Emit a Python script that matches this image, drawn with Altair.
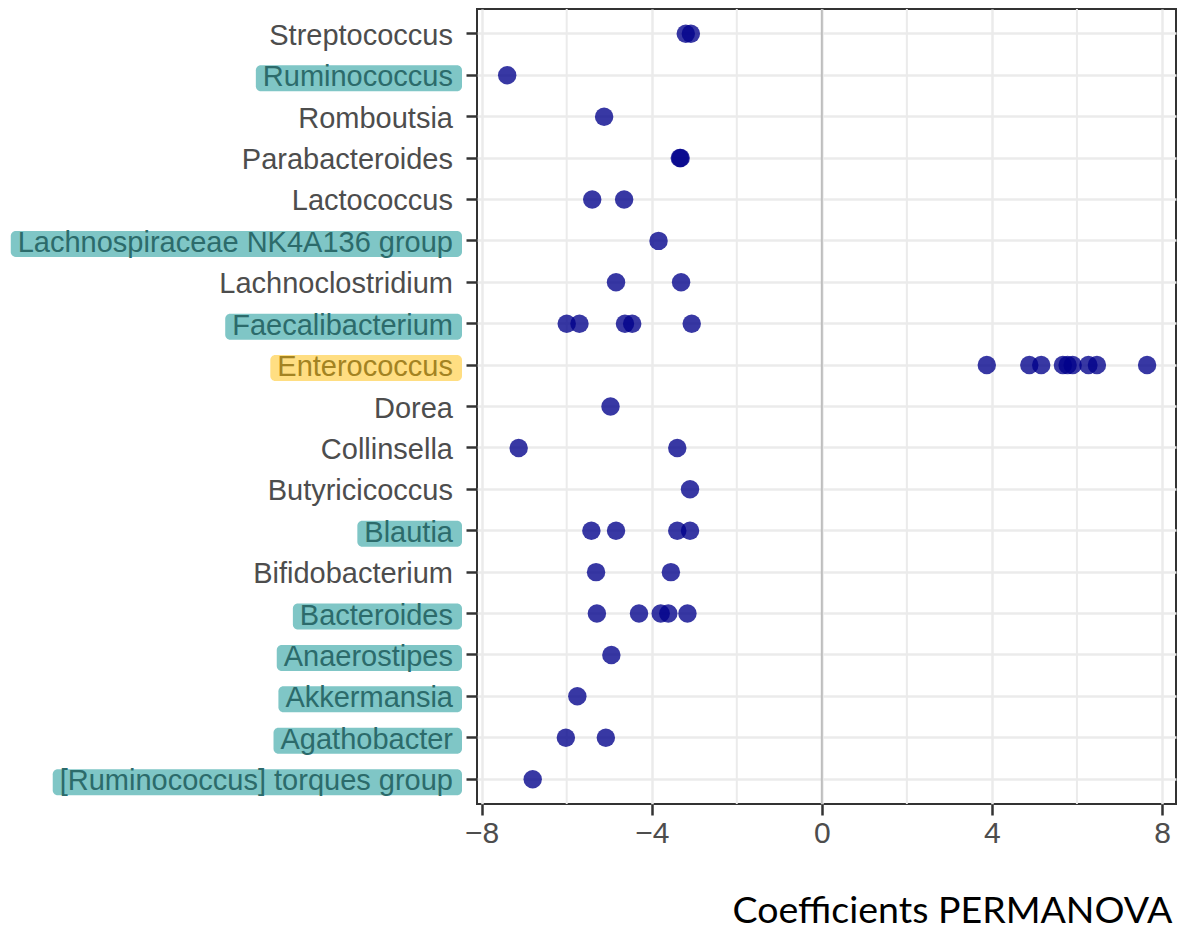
import altair as alt
import pandas as pd

# ---------------- data ----------------
genera = [
    "Streptococcus", "Ruminococcus", "Romboutsia", "Parabacteroides", "Lactococcus",
    "Lachnospiraceae NK4A136 group", "Lachnoclostridium", "Faecalibacterium",
    "Enterococcus", "Dorea", "Collinsella", "Butyricicoccus", "Blautia",
    "Bifidobacterium", "Bacteroides", "Anaerostipes", "Akkermansia",
    "Agathobacter", "[Ruminococcus] torques group",
]
teal_genera = [
    "Ruminococcus", "Lachnospiraceae NK4A136 group", "Faecalibacterium", "Blautia",
    "Bacteroides", "Anaerostipes", "Akkermansia", "Agathobacter",
    "[Ruminococcus] torques group",
]
yellow_genera = ["Enterococcus"]

point_genus = (
    ["Streptococcus"] * 2 + ["Ruminococcus"] + ["Romboutsia"] + ["Parabacteroides"] * 2
    + ["Lactococcus"] * 2 + ["Lachnospiraceae NK4A136 group"] + ["Lachnoclostridium"] * 2
    + ["Faecalibacterium"] * 5 + ["Enterococcus"] * 9 + ["Dorea"] + ["Collinsella"] * 2
    + ["Butyricicoccus"] + ["Blautia"] * 4 + ["Bifidobacterium"] * 2 + ["Bacteroides"] * 5
    + ["Anaerostipes"] + ["Akkermansia"] + ["Agathobacter"] * 2
    + ["[Ruminococcus] torques group"]
)
point_coef = (
    [-3.20, -3.08] + [-7.40] + [-5.12] + [-3.34, -3.32]
    + [-5.40, -4.65] + [-3.84] + [-4.84, -3.31]
    + [-6.00, -5.70, -4.63, -4.46, -3.06]
    + [3.88, 4.88, 5.16, 5.67, 5.78, 5.90, 6.27, 6.47, 7.65]
    + [-4.97] + [-7.13, -3.40] + [-3.10] + [-5.42, -4.84, -3.40, -3.10]
    + [-5.31, -3.55] + [-5.29, -4.30, -3.79, -3.61, -3.16]
    + [-4.95] + [-5.75] + [-6.02, -5.08] + [-6.80]
)
major_ticks = [-8, -4, 0, 4, 8]
minor_ticks = [-6, -2, 2, 6]
x_title = "Coefficients PERMANOVA"

# ---------------- layout helpers ----------------
FONT = "Liberation Sans"
FS = 29
W, H = 699, 795
LABEL_RIGHT = -24   # pixel x of label right edge (relative to plot)
BOX_RIGHT = -15

# Helvetica / Arial advance widths (per 1000 em) for measuring label text
_w = dict(zip("abcdefghijklmnopqrstuvwxyz",
              [556, 556, 500, 556, 556, 278, 556, 556, 222, 222, 500, 222, 833,
               556, 556, 556, 556, 333, 500, 278, 556, 500, 722, 500, 500, 500]))
_w.update(dict(zip("ABCDEFGHIJKLMNOPQRSTUVWXYZ",
                   [667, 667, 722, 722, 667, 611, 778, 722, 278, 500, 667, 556, 833,
                    722, 778, 667, 778, 722, 667, 611, 722, 667, 944, 667, 667, 611])))
_w.update({d: 556 for d in "0123456789"})
_w.update({" ": 278, "[": 278, "]": 278})


def text_width(s):
    return sum(_w.get(c, 556) for c in s) * FS / 1000.0


def group_of(g):
    if g in teal_genera:
        return "teal"
    if g in yellow_genera:
        return "yellow"
    return "plain"


labels_df = pd.DataFrame({"genus": genera})
labels_df["group"] = labels_df["genus"].map(group_of)
labels_df["x0"] = LABEL_RIGHT - labels_df["genus"].map(text_width) - 7
labels_df["x1"] = BOX_RIGHT
boxes_df = labels_df[labels_df["group"] != "plain"]

points_df = pd.DataFrame({"genus": point_genus, "coef": point_coef})
minor_df = pd.DataFrame({"v": minor_ticks})

yscale = alt.Scale(type="band", domain=genera, paddingInner=0, paddingOuter=0.1)
xscale = alt.Scale(domain=[-8.11, 8.33], nice=False, zero=False)

y_axis = alt.Axis(labels=False, title=None, ticks=True, tickSize=11, tickWidth=2.5,
                  tickColor="#333333", domain=False, grid=True, gridColor="#EBEBEB",
                  gridWidth=2.5)
x_axis = alt.Axis(values=major_ticks, title=x_title, grid=True, gridColor="#EBEBEB",
                  gridWidth=2.5, ticks=True, tickSize=11, tickWidth=2.5,
                  tickColor="#333333", domain=False, labelFont=FONT,
                  labelFontSize=30, labelColor="#4D4D4D", labelPadding=3,
                  titleFont="Lato", titleFontSize=37.5, titleFontWeight="normal",
                  titleColor="#000000", titleAnchor="end", titleAlign="right",
                  titleBaseline="alphabetic", titleX=W - 4, titleY=118)

minor = alt.Chart(minor_df).mark_rule(color="#EBEBEB", strokeWidth=2).encode(
    x=alt.X("v:Q", scale=xscale, axis=x_axis)
)

zero = alt.Chart(pd.DataFrame({"z": [0]})).mark_rule(color="#BEBEBE", strokeWidth=2).encode(
    x=alt.X("z:Q", scale=xscale, axis=x_axis)
)

points = alt.Chart(points_df).mark_circle(size=340, opacity=0.78, color="#00008B").encode(
    x=alt.X("coef:Q", scale=xscale, axis=x_axis),
    y=alt.Y("genus:N", scale=yscale, axis=y_axis),
)

boxes = alt.Chart(boxes_df).mark_bar(size=26, cornerRadius=5, yOffset=3).encode(
    x=alt.X("x0:Q", scale=None, axis=None),
    x2="x1:Q",
    y=alt.Y("genus:N", scale=yscale, axis=y_axis),
    color=alt.Color("group:N", scale=alt.Scale(domain=["teal", "yellow"],
                                               range=["#7FC6C6", "#FFDE82"]), legend=None),
)

labels = alt.Chart(labels_df).mark_text(align="right", baseline="middle", font=FONT,
                                        fontSize=FS, dy=2).encode(
    x=alt.value(LABEL_RIGHT),
    y=alt.Y("genus:N", scale=yscale, axis=y_axis),
    text="genus:N",
    color=alt.Color("group:N", scale=alt.Scale(domain=["plain", "teal", "yellow"],
                                               range=["#4D4D4D", "#2C6B6B", "#A38322"]),
                    legend=None),
)

chart = alt.layer(minor, zero, points, boxes, labels).resolve_scale(color="independent").properties(
    width=W, height=H,
    autosize=alt.AutoSizeParams(type="none"),
    padding={"left": 477, "top": 9, "right": 2, "bottom": 126},
    background="white",
).configure_view(stroke="#333333", strokeWidth=2)

chart.save("out.html", embed_options={"renderer": "svg", "actions": False})
